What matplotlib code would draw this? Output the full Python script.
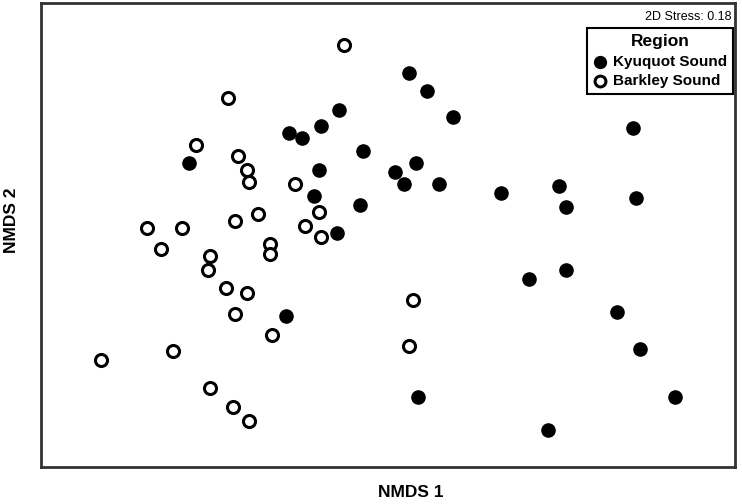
import matplotlib.pyplot as plt

plt.rcParams['font.family'] = ['Liberation Sans', 'DejaVu Sans']

# NMDS-Koordinaten, Kyuquot Sound
kyuquot_x = [0.09, 0.17, 0.28, -0.21, -0.29, -0.43, -0.37, -0.11, 0.12, 0.03,
             0.07, 0.22, -0.30, -0.32, -0.12, -0.22, -0.86, -0.44, 0.13, 1.06,
             0.49, 0.74, 0.77, 1.07, 0.61, 0.77, 0.99, 1.09, 1.24, 0.69]
kyuquot_y = [0.70, 0.62, 0.51, 0.54, 0.47, 0.44, 0.42, 0.36, 0.31, 0.27,
             0.22, 0.22, 0.28, 0.17, 0.13, 0.01, 0.31, -0.35, -0.70, 0.46,
             0.18, 0.21, 0.12, 0.16, -0.19, -0.15, -0.33, -0.49, -0.70, -0.84]

# NMDS-Koordinaten, Barkley Sound
barkley_x = [-0.19, -0.69, -0.83, -0.65, -0.61, -0.60, -0.40, -0.56, -0.66, -1.04,
             -0.89, -0.30, -0.36, -0.29, -0.98, -0.51, -0.51, -0.77, -0.78, -0.70,
             -0.61, -0.66, -0.50, -0.93, -1.24, -0.77, -0.67, -0.60, 0.11, 0.09]
barkley_y = [0.82, 0.59, 0.39, 0.34, 0.28, 0.23, 0.22, 0.09, 0.06, 0.03,
             0.03, 0.10, 0.04, -0.01, -0.06, -0.04, -0.08, -0.09, -0.15, -0.23,
             -0.25, -0.34, -0.43, -0.50, -0.54, -0.66, -0.74, -0.80, -0.28, -0.48]

stress = 0.18

fig = plt.figure(figsize=(7.42, 5.04), dpi=100)
ax = fig.add_axes([0.0553, 0.0734, 0.9353, 0.9206])

ax.scatter(kyuquot_x, kyuquot_y, s=90, color='black', label='Kyuquot Sound', zorder=3)
ax.scatter(barkley_x, barkley_y, s=75, facecolor='white', edgecolor='black',
           linewidths=2.2, label='Barkley Sound', zorder=3)

ax.set_xlim(-1.5, 1.5)
ax.set_ylim(-1.0, 1.0)
ax.set_xticks([])
ax.set_yticks([])
for sp in ax.spines.values():
    sp.set_linewidth(2)
    sp.set_color('#333333')

ax.text(0.995, 0.982, '2D Stress: %.2f' % stress, transform=ax.transAxes,
        ha='right', va='top', fontsize=9)

leg = ax.legend(title='Region', loc='upper right', bbox_to_anchor=(0.997, 0.946),
                frameon=True, fancybox=False, framealpha=1, edgecolor='black',
                borderpad=0.4, handletextpad=0.35, handlelength=0.9,
                labelspacing=0.35, borderaxespad=0, markerscale=0.9,
                prop={'weight': 'bold', 'size': 11},
                title_fontproperties={'weight': 'bold', 'size': 12.5})
leg.get_frame().set_linewidth(1.5)

fig.text(0.554, 0.014, 'NMDS 1', ha='center', va='baseline', fontsize=12.5, fontweight='bold')
fig.text(0.016, 0.563, 'NMDS 2', ha='center', va='center', rotation=90,
         fontsize=12.5, fontweight='bold')

plt.savefig('out.png', dpi=100)
